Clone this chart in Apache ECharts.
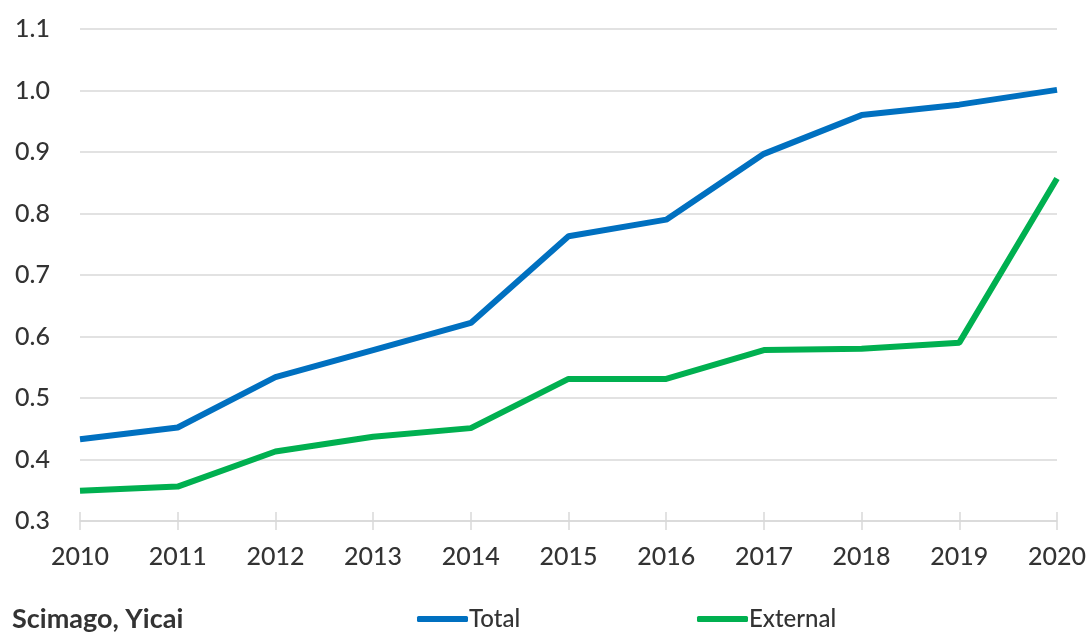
<!DOCTYPE html>
<html>
<head>
<meta charset="utf-8">
<style>
  html, body { margin: 0; padding: 0; background: #ffffff; }
  #chart { width: 1090px; height: 637px; }
</style>
<script src="https://cdn.jsdelivr.net/npm/echarts@6/dist/echarts.min.js"></script>
</head>
<body>
<div id="chart"></div>
<script>
const years = ['2010','2011','2012','2013','2014','2015','2016','2017','2018','2019','2020'];
const totalValues =    [0.433, 0.452, 0.534, 0.578, 0.622, 0.763, 0.790, 0.897, 0.960, 0.977, 1.001];
const externalValues = [0.349, 0.356, 0.413, 0.437, 0.451, 0.531, 0.531, 0.578, 0.580, 0.590, 0.857];
const seriesNames = ['Total', 'External'];
const sourceText = 'Scimago, Yicai';

const FONT = 'Lato, "Open Sans", sans-serif';
const chart = echarts.init(document.getElementById('chart'), null, { renderer: 'canvas' });

chart.setOption({
  backgroundColor: '#ffffff',
  animation: false,
  grid: { left: 80, right: 33, top: 29, bottom: 116, containLabel: false },
  xAxis: [
    {
      type: 'category',
      data: years,
      boundaryGap: false,
      axisLine: { show: true, lineStyle: { color: '#d9d9d9', width: 1.5 } },
      axisTick: { show: true, alignWithLabel: true, length: 9, lineStyle: { color: '#d9d9d9', width: 1.5 } },
      axisLabel: { color: '#333333', fontSize: 25, fontFamily: FONT, fontWeight: 500, margin: 23 },
      splitLine: { show: false }
    },
    {
      type: 'category',
      data: years,
      boundaryGap: false,
      position: 'bottom',
      axisLine: { show: false },
      axisTick: { show: true, inside: true, length: 9, lineStyle: { color: '#d9d9d9', width: 1.5 } },
      axisLabel: { show: false },
      splitLine: { show: false }
    }
  ],
  yAxis: {
    type: 'value',
    min: 0.3,
    max: 1.1,
    interval: 0.1,
    axisLine: { show: false },
    axisTick: { show: false },
    axisLabel: {
      color: '#333333', fontSize: 25, fontFamily: FONT, fontWeight: 500, margin: 30,
      formatter: v => v.toFixed(1)
    },
    splitLine: { show: true, lineStyle: { color: '#d9d9d9', width: 1.5 } }
  },
  legend: [
    {
      data: [seriesNames[0]],
      left: 412, top: 602,
      icon: 'roundRect', itemWidth: 51, itemHeight: 6, itemGap: 0,
      textStyle: { color: '#333333', fontSize: 24, fontFamily: FONT, fontWeight: 500, padding: [0, 0, 0, -4] }
    },
    {
      data: [seriesNames[1]],
      left: 692, top: 602,
      icon: 'roundRect', itemWidth: 51, itemHeight: 6, itemGap: 0,
      textStyle: { color: '#333333', fontSize: 24, fontFamily: FONT, fontWeight: 500, padding: [0, 0, 0, -4] }
    }
  ],
  graphic: [
    {
      type: 'text', left: 12, top: 606,
      style: { text: sourceText, fill: '#333333', font: 'bold 27px ' + FONT }
    }
  ],
  series: [
    {
      name: seriesNames[0], type: 'line', data: totalValues,
      symbol: 'none', lineStyle: { color: '#0070c0', width: 6 }, itemStyle: { color: '#0070c0' }
    },
    {
      name: seriesNames[1], type: 'line', data: externalValues,
      symbol: 'none', lineStyle: { color: '#00b050', width: 6 }, itemStyle: { color: '#00b050' }
    }
  ]
});
</script>
</body>
</html>
